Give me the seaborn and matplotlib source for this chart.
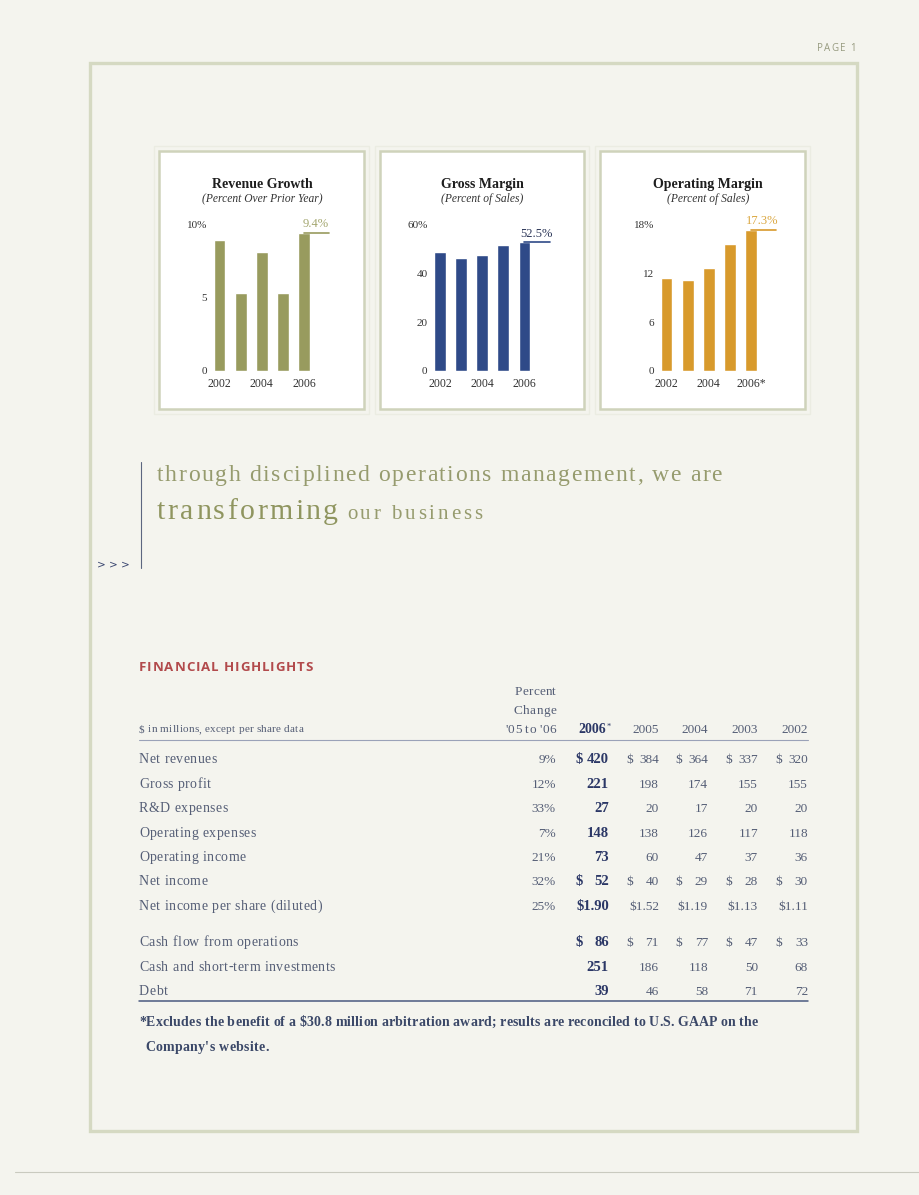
import matplotlib.pyplot as plt
import seaborn as sns
from matplotlib.patches import Rectangle
from matplotlib.font_manager import FontProperties

# chart data
years = ['2002', '2003', '2004', '2005', '2006']
revenue_growth = [8.9, 5.3, 8.1, 5.3, 9.4]
gross_margin = [48.5, 46.0, 47.3, 51.5, 52.5]
operating_margin = [11.4, 11.1, 12.6, 15.6, 17.3]

# table data
table_years = ['2006', '2005', '2004', '2003', '2002']
row_labels = ['Net revenues', 'Gross profit', 'R&D expenses', 'Operating expenses',
              'Operating income', 'Net income', 'Net income per share (diluted)',
              'Cash flow from operations', 'Cash and short-term investments', 'Debt']
pct_change = ['9%', '12%', '33%', '7%', '21%', '32%', '25%', '', '', '']
net_revenues = [420, 384, 364, 337, 320]
gross_profit = [221, 198, 174, 155, 155]
rd_expenses = [27, 20, 17, 20, 20]
operating_expenses = [148, 138, 126, 117, 118]
operating_income = [73, 60, 47, 37, 36]
net_income = [52, 40, 29, 28, 30]
eps_diluted = [1.90, 1.52, 1.19, 1.13, 1.11]
cash_flow_ops = [86, 71, 77, 47, 33]
cash_investments = [251, 186, 118, 50, 68]
debt = [39, 46, 58, 71, 72]

BG = '#f4f4ee'
OLIVE = '#989b5e'
NAVY = '#2f4a88'
GOLD = '#d89a2c'
TXT = '#555e76'
TXT_BOLD = '#2b3766'
HEAD = '#969b6e'

sns.set_style('white')
plt.rcParams['font.family'] = ['Liberation Serif', 'DejaVu Serif']

W, H = 920, 1195
fig = plt.figure(figsize=(W / 100, H / 100), dpi=100, facecolor=BG)
bg = fig.add_axes([0, 0, 1, 1])
bg.set_xlim(0, W)
bg.set_ylim(H, 0)
bg.axis('off')
bg.set_zorder(-1)
renderer = fig.canvas.get_renderer()


def text_w(s, size, weight='normal', family=None):
    fp = FontProperties(family=family or plt.rcParams['font.family'], size=size,
                        weight=weight)
    w, _, _ = renderer.get_text_width_height_descent(s, fp, ismath=False)
    return w


def tracked(x, y, s, size, track=0.0, width=None, ha='left', weight='normal',
            family=None, **kw):
    # draw text char by char with extra letter spacing (pixels), baseline at y
    ref_w = text_w('l', size, weight, family)
    adv = [0.0] + [text_w(s[:i] + 'l', size, weight, family) - ref_w
                   for i in range(1, len(s) + 1)]
    if width is not None:
        track = (width - adv[-1]) / max(len(s) - 1, 1)
    total = adv[-1] + track * (len(s) - 1)
    if ha == 'right':
        x -= total
    for i, ch in enumerate(s):
        if ch != ' ':
            kws = dict(ha='left', va='baseline', fontsize=size, fontweight=weight, **kw)
            if family:
                kws['family'] = family
            bg.text(x + adv[i] + i * track, y, ch, **kws)
    return x + total


# page frame
bg.add_patch(Rectangle((90, 63), 767, 1068, fill=False, ec='#d5d9c2', lw=2.4))
bg.plot([15, 920], [1172, 1172], color='#c9cabf', lw=0.8)
tracked(856, 51, 'PAGE 1', 7, track=1.3, ha='right', family=['Open Sans', 'DejaVu Sans'],
        color='#979b80')

panels = [
    ((159, 151, 364, 409), 'Revenue Growth', '(Percent Over Prior Year)', revenue_growth,
     OLIVE, [0, 5, 10], ['0', '5', '10%'], '9.4%', '#a4a770', 209, 262, '2006'),
    ((380, 151, 584, 409), 'Gross Margin', '(Percent of Sales)', gross_margin,
     NAVY, [0, 20, 40, 60], ['0', '20', '40', '60%'], '52.5%', '#2c3658', 429.5, 482, '2006'),
    ((600, 151, 805, 409), 'Operating Margin', '(Percent of Sales)', operating_margin,
     GOLD, [0, 6, 12, 18], ['0', '6', '12', '18%'], '17.3%', '#dba843', 656, 708, '2006*'),
]

for (x0, y0, x1, y1), title, sub, vals, col, yt, ytl, lab, labcol, axl, tx, last in panels:
    bg.add_patch(Rectangle((x0 - 5, y0 - 5), x1 - x0 + 10, y1 - y0 + 10, fill=False,
                           ec='#ebecE2', lw=1.0))
    bg.add_patch(Rectangle((x0, y0), x1 - x0, y1 - y0, fc='white', ec='#cfd3bb', lw=1.8))
    bg.text(tx, 184, title, ha='center', va='center', fontsize=10, fontweight='bold',
            color='#1e1e1e')
    bg.text(tx, 199, sub, ha='center', va='center', fontsize=8.3, style='italic',
            color='#333333')

    ax = fig.add_axes([axl / W, (H - 371) / H, 105.5 / W, 147 / H])
    ax.set_facecolor('none')
    sns.barplot(x=years, y=vals, color=col, saturation=1, width=0.56, ax=ax)
    ax.set_xlim(-0.5, 4.5)
    ax.set_ylim(0, yt[-1])
    ax.set_yticks(yt)
    ax.set_yticklabels(ytl)
    ax.set_xticks([0, 2, 4])
    ax.set_xticklabels([years[0], years[2], last])
    ax.tick_params(length=0, colors='#333333')
    ax.tick_params(axis='x', pad=5, labelsize=8.5)
    ax.tick_params(axis='y', pad=1.5, labelsize=8)
    ax.set_xlabel('')
    ax.set_ylabel('')
    sns.despine(ax=ax, left=True, bottom=True)
    ax.plot([4, 5.2], [vals[-1], vals[-1]], color=col, lw=1.2, clip_on=False)
    ax.annotate(lab, (4.55, vals[-1]), xytext=(0, 2), textcoords='offset points',
                ha='center', va='bottom', fontsize=9, color=labcol, annotation_clip=False)

# heading
bg.plot([141, 141], [462, 568], color='#5c6680', lw=0.8)
bg.text(97, 565, '> > >', ha='left', va='center', fontsize=7.5,
        family=['DejaVu Sans'], color='#3a4670')
tracked(157, 481, 'through disciplined operations management, we are', 17, width=565,
        color=HEAD)
tracked(157, 519, 'transforming', 21.5, width=181, color='#8f955f')
tracked(347, 519, 'our business', 15, width=135, color=HEAD)

# financial highlights table
tracked(139, 671, 'FINANCIAL HIGHLIGHTS', 9.5, width=174, weight='bold',
        family=['Open Sans', 'DejaVu Sans'], color='#b24a4c')

pct_x = 556
col_x = [609, 659, 708, 758, 808]
for y, s in zip([691, 710, 729], ['Percent', 'Change', "'05 to '06"]):
    tracked(pct_x, y + 4, s, 9.5, track=0.3, ha='right', color=TXT)
tracked(139, 732, '$ in millions, except per share data', 8, track=0.25, color=TXT)
for i, (yr, cx) in enumerate(zip(table_years, col_x)):
    if i == 0:
        bg.text(cx - 3, 733, yr, ha='right', va='baseline', fontsize=10,
                fontweight='bold', color=TXT_BOLD)
        bg.text(cx - 2, 727, '*', ha='left', va='center', fontsize=6, color=TXT_BOLD)
    else:
        bg.text(cx, 733, yr, ha='right', va='baseline', fontsize=9.5, color=TXT)
bg.plot([139, 808], [740, 740], color='#9aa2b8', lw=0.8)

table_values = [net_revenues, gross_profit, rd_expenses, operating_expenses,
                operating_income, net_income, eps_diluted, cash_flow_ops,
                cash_investments, debt]
row_kind = ['dollar', 'plain', 'plain', 'plain', 'plain', 'dollar', 'eps',
            'dollar', 'plain', 'plain']
row_y = [759, 784, 808, 833, 857, 881, 906, 942, 967, 991]

for lab, pct, vals, kind, y in zip(row_labels, pct_change, table_values, row_kind, row_y):
    yb = y + 4
    tracked(139, yb, lab, 10, track=0.45, color=TXT)
    if pct:
        bg.text(pct_x, yb, pct, ha='right', va='baseline', fontsize=9.5, color=TXT)
    for i, (v, cx) in enumerate(zip(vals, col_x)):
        bold = i == 0
        kw = dict(va='baseline', fontsize=10.5 if bold else 9.5,
                  fontweight='bold' if bold else 'normal',
                  color=TXT_BOLD if bold else TXT)
        if kind == 'eps':
            bg.text(cx, yb, f'${v:.2f}', ha='right', **kw)
        else:
            bg.text(cx, yb, str(v), ha='right', **kw)
            if kind == 'dollar':
                bg.text(cx - 33, yb, '$', ha='left', **kw)
bg.plot([139, 808], [1001, 1001], color='#4a5a80', lw=1.1)

tracked(139, 1026, '*Excludes the benefit of a $30.8 million arbitration award; results are '
        'reconciled to U.S. GAAP on the', 10, width=619, weight='bold', color='#3b4868')
tracked(145, 1051, "Company's website.", 10, track=0.3, weight='bold', color='#3b4868')

fig.savefig('out.png', dpi=100, facecolor=BG)
